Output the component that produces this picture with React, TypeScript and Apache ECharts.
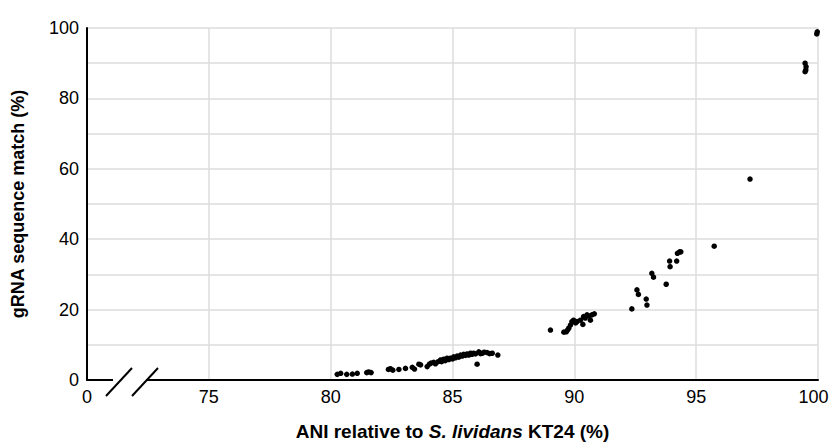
import React, { useEffect, useRef } from "react";
import * as echarts from "echarts";

const xTickLabels: Record<number, string> = { 70: "0", 75: "75", 80: "80", 85: "85", 90: "90", 95: "95", 100: "100" };
const yTickLabels = [0, 20, 40, 60, 80, 100];

const aniValues = [
  80.27, 80.41, 80.66, 80.89, 81.09, 81.48, 81.56, 81.66, 82.37, 82.45, 82.55, 82.8, 83.07, 83.35, 83.44, 83.62,
  83.69, 83.96, 84.05, 84.12, 84.23, 84.3, 84.41, 84.51, 84.55, 84.64, 84.7, 84.78, 84.85, 84.92, 85.0, 85.05,
  85.12, 85.19, 85.26, 85.33, 85.4, 85.46, 85.53, 85.6, 85.67, 85.74, 85.8, 85.87, 85.94, 86.01, 86.08, 86.15,
  86.22, 86.3, 86.42, 86.52, 86.63, 86.86,
  89.02, 89.57, 89.67, 89.72, 89.77, 89.84, 89.9, 89.97, 90.05, 90.11, 90.25, 90.35, 90.38, 90.45, 90.52, 90.6,
  90.66, 90.72, 90.82,
  92.36, 92.57, 92.63, 92.95, 92.98, 93.18, 93.25, 93.77, 93.91, 93.93, 94.2, 94.23, 94.32, 94.37,
  95.74, 97.21, 99.47, 99.5, 99.51, 99.47, 99.95, 99.97,
];
const matchValues = [
  1.6, 1.9, 1.6, 1.7, 1.9, 2.1, 2.3, 2.1, 3.0, 3.2, 2.8, 3.0, 3.3, 3.6, 3.1, 4.5,
  4.3, 3.8, 4.5, 4.8, 5.0, 4.6, 5.2, 5.7, 5.2, 5.9, 5.5, 6.2, 5.8, 6.2, 6.0, 6.6,
  6.3, 6.8, 6.5, 7.1, 6.8, 7.3, 7.0, 7.4, 7.1, 7.6, 7.3, 7.6, 7.4, 4.5, 8.0, 7.5,
  7.6, 7.9, 7.8, 7.5, 7.6, 7.1,
  14.2, 13.6, 13.7, 14.2, 14.7, 15.6, 16.6, 17.0, 16.2, 16.6, 17.0, 15.8, 18.0, 17.6, 18.5, 18.2,
  17.0, 18.5, 18.8,
  20.2, 25.6, 24.3, 23.0, 21.3, 30.3, 29.2, 27.2, 33.8, 32.2, 33.8, 36.0, 36.4, 36.4,
  38.0, 57.1, 87.6, 88.1, 89.0, 90.0, 98.3, 98.9,
];

const FONT = "'Liberation Sans', Arial, Helvetica, sans-serif";

export default function App() {
  const ref = useRef<HTMLDivElement>(null);
  useEffect(() => {
    if (!ref.current) return;
    document.body.style.margin = "0";
    const chart = echarts.init(ref.current, undefined, { renderer: "svg" });
    const data = aniValues.map((x, i) => [x, matchValues[i]]);
    chart.setOption({
      animation: false,
      backgroundColor: "#ffffff",
      grid: { left: 87, right: 13, top: 28, bottom: 63, outerBoundsMode: "none", containLabel: false },
      xAxis: {
        type: "value",
        min: 70,
        max: 100,
        interval: 5,
        name: "{b|ANI relative to }{i|S. lividans}{b| KT24 (%)}",
        nameLocation: "middle",
        nameGap: 42,
        nameTextStyle: {
          rich: {
            b: { fontFamily: FONT, fontSize: 19, fontWeight: "bold", color: "#000" },
            i: { fontFamily: FONT, fontSize: 19, fontWeight: "bold", fontStyle: "italic", color: "#000" },
          },
        },
        axisLine: { show: true, lineStyle: { color: "#000", width: 2 } },
        axisTick: { show: false },
        axisLabel: {
          color: "#000",
          fontFamily: FONT,
          fontSize: 18,
          margin: 8,
          formatter: (v: number) => {
            const s = xTickLabels[v] ?? "";
            return v === 100 ? "{r|" + s + "}" : s;
          },
          rich: {
            r: { fontFamily: FONT, fontSize: 18, color: "#000", padding: [0, 9, 0, 0] },
          },
        },
        splitLine: { show: true, lineStyle: { color: "#dcdcdc", width: 1.5 } },
      },
      yAxis: {
        type: "value",
        min: 0,
        max: 100,
        interval: 10,
        name: "gRNA sequence match (%)",
        nameLocation: "middle",
        nameGap: 60,
        nameTextStyle: { fontFamily: FONT, fontSize: 18, fontWeight: "bold", color: "#000" },
        axisLine: { show: true, lineStyle: { color: "#000", width: 2 } },
        axisTick: { show: false },
        axisLabel: {
          color: "#000",
          fontFamily: FONT,
          fontSize: 18,
          margin: 8,
          formatter: (v: number) => (yTickLabels.includes(v) ? String(v) : ""),
        },
        splitLine: { show: true, lineStyle: { color: "#dcdcdc", width: 1.5 } },
      },
      series: [
        {
          type: "scatter",
          data,
          symbol: "circle",
          symbolSize: 5.5,
          itemStyle: { color: "#000", opacity: 1 },
        },
      ],
      graphic: [
        { type: "rect", z: 100, shape: { x: 113, y: 376, width: 33, height: 9 }, style: { fill: "#fff" } },
        { type: "line", z: 101, shape: { x1: 106, y1: 396, x2: 132, y2: 368 }, style: { stroke: "#000", lineWidth: 2 } },
        { type: "line", z: 101, shape: { x1: 132, y1: 396, x2: 158, y2: 368 }, style: { stroke: "#000", lineWidth: 2 } },
      ],
    });
    return () => chart.dispose();
  }, []);
  return <div ref={ref} style={{ width: 831, height: 443, position: "absolute", left: 0, top: 0 }} />;
}
